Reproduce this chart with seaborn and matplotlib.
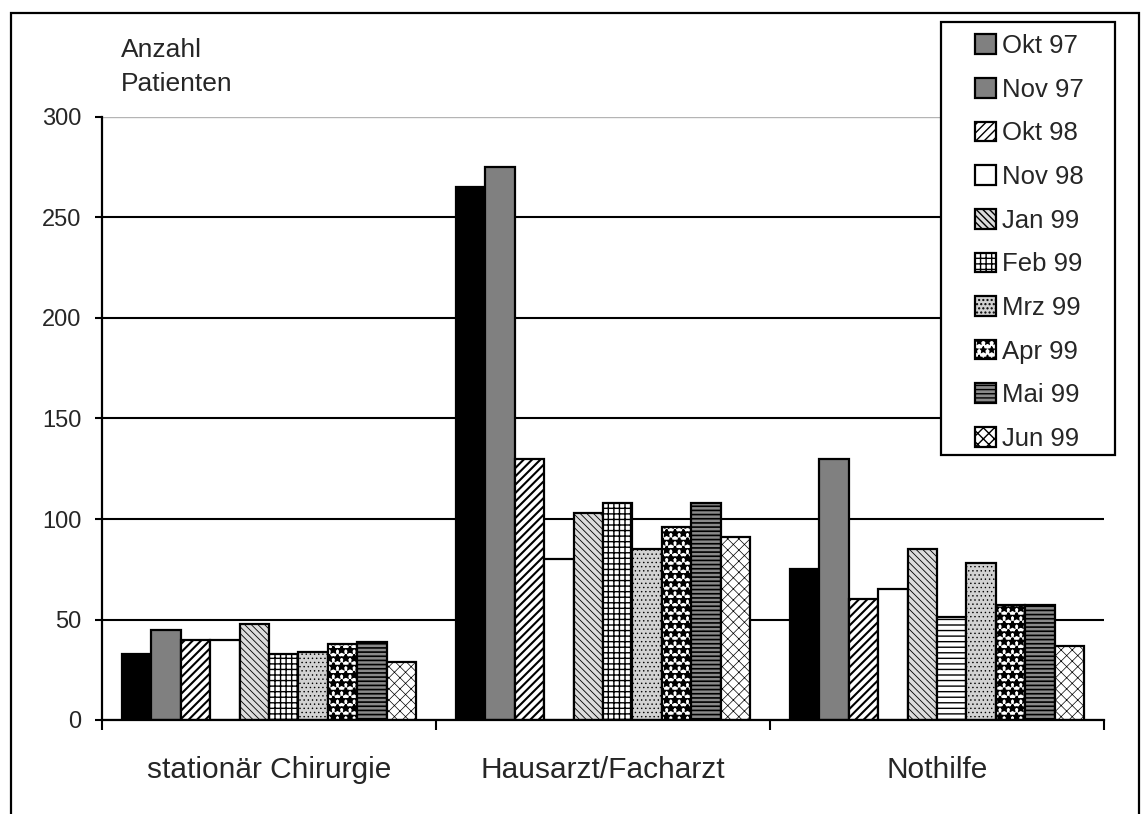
import matplotlib
matplotlib.use("Agg")
import matplotlib.pyplot as plt
from matplotlib.patches import Patch, Rectangle
import numpy as np
import pandas as pd
import seaborn as sns

# --- data -------------------------------------------------------------
categories = ["stationär Chirurgie", "Hausarzt/Facharzt", "Nothilfe"]
months = ["Okt 97", "Nov 97", "Okt 98", "Nov 98", "Jan 99",
          "Feb 99", "Mrz 99", "Apr 99", "Mai 99", "Jun 99"]

okt97 = [33, 265, 75]
nov97 = [45, 275, 130]
okt98 = [40, 130, 60]
nov98 = [40, 80, 65]
jan99 = [48, 103, 85]
feb99 = [33, 108, 51]
mrz99 = [34, 85, 78]
apr99 = [38, 96, 57]
mai99 = [39, 108, 57]
jun99 = [29, 91, 37]

series = [okt97, nov97, okt98, nov98, jan99, feb99, mrz99, apr99, mai99, jun99]
yticks = [0, 50, 100, 150, 200, 250, 300]

df = pd.DataFrame({
    "Kategorie": np.repeat([categories], len(months), axis=0).ravel(),
    "Monat": np.repeat(months, len(categories)),
    "Anzahl": np.concatenate(series),
})

# --- styles: (facecolor, hatch, hatch linewidth) per month --------------
styles = {
    "Okt 97": ("#000000", None, 1.0),
    "Nov 97": ("#808080", None, 1.0),
    "Okt 98": ("#ffffff", "////", 1.5),
    "Nov 98": ("#ffffff", None, 1.0),
    "Jan 99": ("#dcdcdc", "\\\\\\\\\\", 0.6),
    "Feb 99": ("#ffffff", "+++", 1.0),
    "Mrz 99": ("#d2d2d2", "....", 0.5),
    "Apr 99": ("#ffffff", "**", 1.6),
    "Mai 99": ("#8a8a8a", "----", 1.2),
    "Jun 99": ("#ffffff", "xxx", 0.5),
}
legend_face = {"Okt 97": "#808080"}
bar_override = {("Nothilfe", "Feb 99"): ("#ffffff", "---", 1.0)}

sns.set_theme(style="white")
plt.rcParams["font.family"] = ["Liberation Sans", "DejaVu Sans"]
plt.rcParams["hatch.linewidth"] = 1.0

fig = plt.figure(figsize=(11.42, 8.14), dpi=100)
ax = fig.add_axes([102 / 1142, 94 / 814, 1002 / 1142, 603 / 814])

palette = {m: styles[m][0] for m in months}
sns.barplot(data=df, x="Kategorie", y="Anzahl", hue="Monat",
            order=categories, hue_order=months, palette=palette,
            width=0.88, gap=0, edgecolor="black", linewidth=1.6,
            saturation=1, legend=False, ax=ax, zorder=3)


def apply_style(patch, face, hatch, hlw):
    patch.set_facecolor(face)
    patch.set_edgecolor("black")
    if hatch:
        patch.set_hatch(hatch)
        if hasattr(patch, "set_hatch_linewidth"):
            patch.set_hatch_linewidth(hlw)


for month, cont in zip(months, ax.containers):
    for cat, bar in zip(categories, cont.patches):
        face, hatch, hlw = bar_override.get((cat, month), styles[month])
        apply_style(bar, face, hatch, hlw)

# --- axes ------------------------------------------------------------
ax.set_ylim(0, 300)
ax.set_xlim(-0.5, len(categories) - 0.5)
ax.set_yticks(yticks)
ax.set_yticklabels([str(v) for v in yticks], fontsize=17)
ax.set_xlabel("")
ax.set_ylabel("")

ax.yaxis.grid(True, color="black", linewidth=1.5, zorder=0)
ax.set_axisbelow(True)
grid_lines = ax.yaxis.get_gridlines()
grid_lines[-1].set_color("#b4b4b4")
grid_lines[-1].set_linewidth(1.0)

for side in ("top", "right"):
    ax.spines[side].set_visible(False)
for side in ("left", "bottom"):
    ax.spines[side].set_color("black")
    ax.spines[side].set_linewidth(1.6)
    ax.spines[side].set_zorder(5)

ax.tick_params(axis="y", direction="out", length=5, width=1.5,
               color="black", left=True, pad=10)
ax.set_xticks(range(len(categories)))
ax.set_xticklabels(categories, fontsize=21.5)
ax.tick_params(axis="x", which="major", length=0, pad=26)
ax.set_xticks(np.arange(-0.5, len(categories)), minor=True)
ax.tick_params(axis="x", which="minor", direction="out", length=7,
               width=1.5, color="black", bottom=True)

fig.text(121 / 1142, 1 - 38 / 814, "Anzahl\nPatienten", fontsize=19,
         va="top", ha="left", linespacing=1.55)

# --- legend ----------------------------------------------------------
handles = []
for m in months:
    face, hatch, hlw = styles[m]
    face = legend_face.get(m, face)
    handles.append(Patch(facecolor=face, edgecolor="black", hatch=hatch,
                         linewidth=1.6, label=m))

leg = fig.legend(handles=handles, loc="upper left",
                 bbox_to_anchor=(975 / 1142, 1 - 34 / 814),
                 borderaxespad=0, borderpad=0,
                 fontsize=18.5, handlelength=0.8, handleheight=0.8,
                 handletextpad=0.25, labelspacing=0.765, frameon=False)

# legend box outline
fig.patches.append(Rectangle((941 / 1142, 1 - 455 / 814), 174 / 1142, 433 / 814,
                             transform=fig.transFigure, facecolor="white",
                             edgecolor="black", linewidth=1.6, zorder=4))
leg.set_zorder(6)

# outer frame of the figure
fig.patches.append(Rectangle((11 / 1142, -0.02), 1128 / 1142, 1.02 - 13 / 814,
                             transform=fig.transFigure, fill=False,
                             edgecolor="black", linewidth=1.6))

fig.savefig("out.png", dpi=100)
